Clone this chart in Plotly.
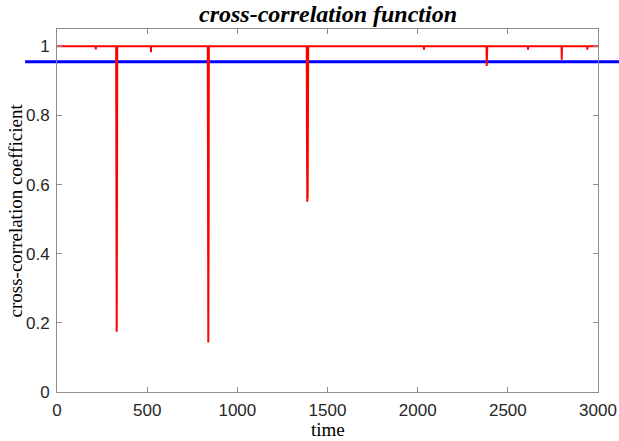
import plotly.graph_objects as go

# Baseline level of the correlation trace and the detected drops
baseline = 1.0
dip_times = [215, 329, 331, 333, 521, 837, 839, 841, 1386, 1388, 1390, 1392,
             2035, 2383, 2385, 2612, 2799, 2941]
dip_values = [0.991, 0.60, 0.174, 0.60, 0.983, 0.50, 0.143, 0.50, 0.743, 0.55, 0.56, 0.743,
              0.990, 0.943, 0.96, 0.990, 0.961, 0.990]
threshold = 0.955
t_start, t_end = 0, 3000

# Assemble the trace: flat baseline broken by the dips
times = [t_start]
values = [baseline]
for t, v in zip(dip_times, dip_values):
    times += [t - 1, t, t + 1]
    values += [baseline, v, baseline]
times.append(t_end)
values.append(baseline)

fig = go.Figure()
fig.add_trace(go.Scatter(x=times, y=values, mode="lines",
                         line=dict(color="#ff0000", width=2), showlegend=False))

# Threshold line spanning past the axes
fig.add_shape(type="line", xref="paper", yref="y", x0=-0.059, x1=1.05,
              y0=threshold, y1=threshold, line=dict(color="#0000ff", width=3),
              layer="below")

axis_common = dict(showgrid=False, zeroline=False, showline=True, linecolor="#8c8c8c",
                   linewidth=1, mirror="ticks", ticks="inside", ticklen=5,
                   tickcolor="#8c8c8c", automargin=False,
                   tickfont=dict(family="Liberation Sans", size=17, color="#262626"))

label_font = dict(family="Liberation Serif", size=19, color="black")

fig.update_layout(
    width=619, height=441,
    margin=dict(l=57, r=21, t=29, b=49),
    paper_bgcolor="white", plot_bgcolor="white",
    xaxis=dict(range=[0, 3000], tickvals=[0, 500, 1000, 1500, 2000, 2500, 3000],
               ticklabelstandoff=3, **axis_common),
    yaxis=dict(range=[0, 1.05], tickvals=[0, 0.2, 0.4, 0.6, 0.8, 1],
               ticktext=["0", "0.2", "0.4", "0.6", "0.8", "1"],
               ticklabelstandoff=3, **axis_common),
    annotations=[
        dict(text="<b><i>cross-correlation function</i></b>", xref="paper", yref="paper",
             x=0.5, y=1, yshift=15, xanchor="center", yanchor="middle", showarrow=False,
             font=dict(family="Liberation Serif", size=24, color="black")),
        dict(text="time", xref="paper", yref="paper", x=0.5, y=0, yshift=-37,
             xanchor="center", yanchor="middle", showarrow=False, font=label_font),
        dict(text="cross-correlation coefficient", xref="paper", yref="paper",
             x=0, y=0.5, xshift=-42, xanchor="center", yanchor="middle",
             textangle=-90, showarrow=False, font=label_font),
    ],
)

fig.write_html("out.html")
